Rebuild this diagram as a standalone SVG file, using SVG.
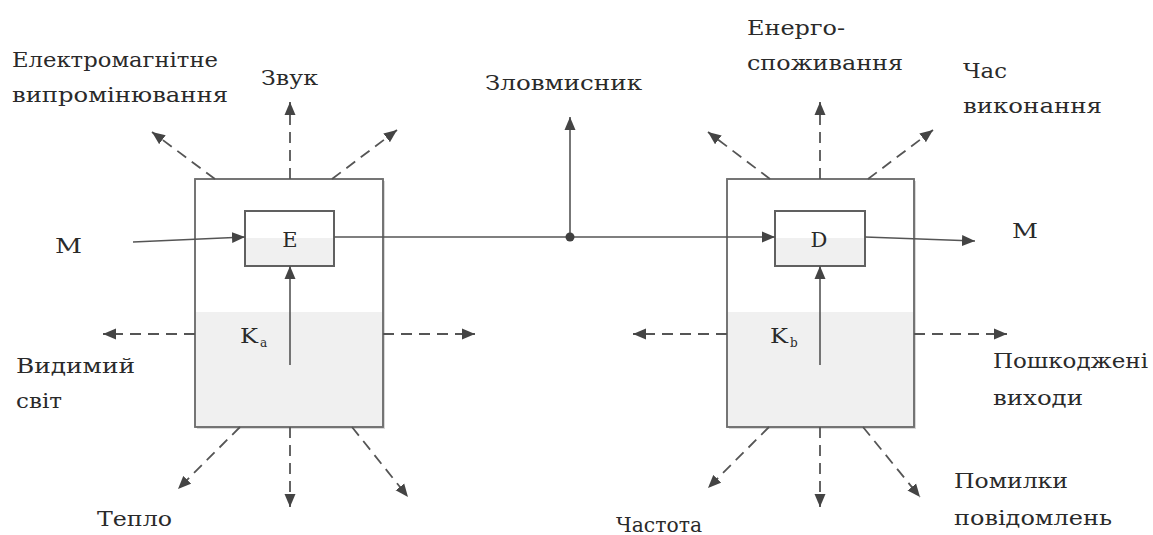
<svg xmlns="http://www.w3.org/2000/svg" width="1153" height="535" viewBox="0 0 1153 535">
<style>
text{font-family:"DejaVu Serif","Liberation Serif",serif;fill:#2a2a2a;}
.lbl{font-size:20px;}
.big{font-size:21px;}
.sub{font-size:12px;}
.outer{fill:#ffffff;stroke:#707070;stroke-width:1.6;}
.gray{fill:#f0f0f0;}
.inner{fill:none;stroke:#606060;stroke-width:2;}
.shadow{fill:#d8d8d8;}
.sol{fill:none;stroke:#555555;stroke-width:1.6;marker-end:url(#ah);}
.dash{fill:none;stroke:#555555;stroke-width:1.8;stroke-dasharray:11 7;marker-end:url(#ah);}
</style>
<defs>
<marker id="ah" markerUnits="userSpaceOnUse" markerWidth="14" markerHeight="12" refX="13" refY="6" orient="auto">
<path d="M0,0.5 L13,6 L0,11.5 z" fill="#444444"/>
</marker>
</defs>
<rect width="1153" height="535" fill="#ffffff"/>

<g id="sender">
<rect class="shadow" x="197" y="181" width="188" height="248"/>
<rect class="outer" x="195" y="179" width="188" height="248"/>
<rect class="gray" x="196" y="312" width="186" height="114"/>
<rect class="outer" x="195" y="179" width="188" height="248" style="fill:none"/>
</g>
<g id="encoder">
<rect x="245" y="211" width="89" height="55" fill="#ffffff"/>
<rect class="gray" x="246" y="238" width="87" height="27"/>
<rect class="inner" x="245" y="211" width="89" height="55"/>
<text class="big" x="290" y="247" text-anchor="middle">E</text>
</g>
<g id="key-a">
<text class="big" x="240" y="343" textLength="18" lengthAdjust="spacingAndGlyphs">K</text>
<text class="sub" x="260" y="347">a</text>
</g>

<g id="receiver">
<rect class="shadow" x="729" y="181" width="187" height="248"/>
<rect class="outer" x="727" y="179" width="187" height="248"/>
<rect class="gray" x="728" y="312" width="185" height="114"/>
<rect class="outer" x="727" y="179" width="187" height="248" style="fill:none"/>
</g>
<g id="decoder">
<rect x="775" y="211" width="90" height="55" fill="#ffffff"/>
<rect class="gray" x="776" y="238" width="88" height="27"/>
<rect class="inner" x="775" y="211" width="90" height="55"/>
<text class="big" x="819" y="247" text-anchor="middle">D</text>
</g>
<g id="key-b">
<text class="big" x="770" y="343" textLength="18" lengthAdjust="spacingAndGlyphs">K</text>
<text class="sub" x="790" y="347">b</text>
</g>

<g id="connectors">
<path class="sol" d="M133,242 L245,237"/>
<path class="sol" d="M334,237 L775,237"/>
<path class="sol" d="M865,237 L975,241"/>
<path class="sol" d="M570,237 L570,117"/>
<path class="sol" d="M290,365 L290,266"/>
<path class="sol" d="M820,365 L820,266"/>
<circle cx="570" cy="237" r="4.5" fill="#404040"/>

<path class="dash" d="M215,179 L152,132"/>
<path class="dash" d="M290,179 L290,102"/>
<path class="dash" d="M332,179 L397,130"/>
<path class="dash" d="M195,334 L103,334"/>
<path class="dash" d="M383,334 L475,334"/>
<path class="dash" d="M240,427 L178,489"/>
<path class="dash" d="M290,427 L290,507"/>
<path class="dash" d="M352,427 L408,497"/>

<path class="dash" d="M770,179 L708,132"/>
<path class="dash" d="M820,179 L820,102"/>
<path class="dash" d="M868,179 L933,130"/>
<path class="dash" d="M727,334 L633,334"/>
<path class="dash" d="M914,334 L1007,334"/>
<path class="dash" d="M769,427 L708,488"/>
<path class="dash" d="M820,427 L820,507"/>
<path class="dash" d="M863,427 L920,497"/>
</g>

<g id="labels">
<text class="lbl" x="12" y="67" textLength="206" lengthAdjust="spacingAndGlyphs">Електромагнітне</text>
<text class="lbl" x="12" y="102" textLength="216" lengthAdjust="spacingAndGlyphs">випромінювання</text>
<text class="lbl" x="261" y="85" textLength="57" lengthAdjust="spacingAndGlyphs">Звук</text>
<text class="lbl" x="485" y="90" textLength="157" lengthAdjust="spacingAndGlyphs">Зловмисник</text>
<text class="lbl" x="747" y="35" textLength="98" lengthAdjust="spacingAndGlyphs">Енерго-</text>
<text class="lbl" x="747" y="70" textLength="156" lengthAdjust="spacingAndGlyphs">споживання</text>
<text class="lbl" x="963" y="78" textLength="44" lengthAdjust="spacingAndGlyphs">Час</text>
<text class="lbl" x="963" y="113" textLength="139" lengthAdjust="spacingAndGlyphs">виконання</text>
<text class="big" x="55" y="253" textLength="27" lengthAdjust="spacingAndGlyphs">M</text>
<text class="big" x="1012" y="238" textLength="26" lengthAdjust="spacingAndGlyphs">M</text>
<text class="lbl" x="16" y="373" textLength="119" lengthAdjust="spacingAndGlyphs">Видимий</text>
<text class="lbl" x="16" y="408" textLength="46" lengthAdjust="spacingAndGlyphs">світ</text>
<text class="lbl" x="97" y="526" textLength="75" lengthAdjust="spacingAndGlyphs">Тепло</text>
<text class="lbl" x="993" y="368" textLength="155" lengthAdjust="spacingAndGlyphs">Пошкоджені</text>
<text class="lbl" x="993" y="405" textLength="90" lengthAdjust="spacingAndGlyphs">виходи</text>
<text class="lbl" x="954" y="488" textLength="114" lengthAdjust="spacingAndGlyphs">Помилки</text>
<text class="lbl" x="954" y="525" textLength="158" lengthAdjust="spacingAndGlyphs">повідомлень</text>
<text class="lbl" x="616" y="532" textLength="86" lengthAdjust="spacingAndGlyphs">Частота</text>
</g>
</svg>
